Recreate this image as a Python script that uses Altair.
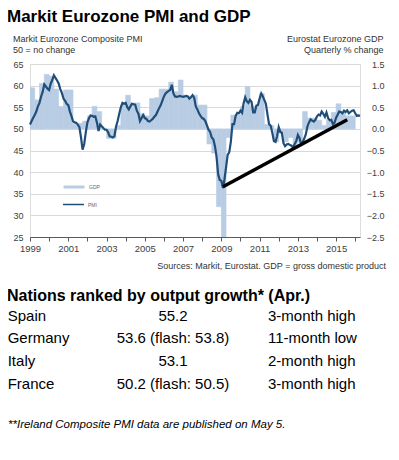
import altair as alt
import pandas as pd

TITLE = "Markit Eurozone PMI and GDP"
LEFT_SUB = ["Markit Eurozone Composite PMI", "50 = no change"]
RIGHT_SUB = ["Eurostat Eurozone GDP", "Quarterly % change"]
SOURCE = "Sources: Markit, Eurostat. GDP = gross domestic product"
TABLE_HEAD = "Nations ranked by output growth* (Apr.)"
countries = ["Spain", "Germany", "Italy", "France"]
readings = ["55.2", "53.6 (flash: 53.8)", "53.1", "50.2 (flash: 50.5)"]
notes = ["3-month high", "11-month low", "2-month high", "3-month high"]
FOOTNOTE = "**Ireland Composite PMI data are published on May 5."

# Monthly composite PMI, Jan 1999 - Apr 2016
pmi_values = [
    51.0, 51.8, 52.5, 53.2, 54.0, 55.2, 56.0, 57.5, 58.6, 60.3, 59.8, 59.3,
    59.0, 60.5, 61.3, 62.4, 61.8, 61.2, 60.5, 59.2, 58.3, 57.0, 56.5, 55.8,
    55.5, 54.0, 53.0, 51.8, 51.5, 51.4, 51.0, 50.4, 48.0, 45.2, 46.5, 49.2,
    51.5, 52.5, 53.1, 53.0, 52.8, 52.9, 51.5, 49.5, 51.0, 50.6, 50.2, 49.8,
    49.8, 49.2, 48.3, 48.2, 48.0, 48.3, 50.5, 51.8, 53.5, 55.0, 56.0, 55.8,
    56.0, 55.0, 54.5, 55.2, 55.8, 55.7, 55.6, 54.2, 53.5, 51.8, 52.5, 53.2,
    52.5, 52.3, 51.8, 51.7, 52.0, 52.3, 52.8, 53.2, 54.0, 54.8, 55.5, 56.5,
    57.5, 58.2, 58.5, 58.8, 59.0, 60.2, 58.2, 57.5, 57.4, 57.5, 57.6, 57.5,
    57.4, 57.5, 57.6, 57.5, 57.0, 57.3, 57.8, 57.2, 55.2, 54.5, 53.6, 53.0,
    52.5, 52.3, 51.8, 50.8, 49.8, 49.3, 48.0, 47.6, 46.0, 43.6, 39.5, 38.2,
    38.0, 36.3, 38.3, 41.1, 44.0, 44.6, 47.0, 51.1, 51.1, 53.0, 53.7, 53.6,
    54.2, 53.7, 55.9, 57.3, 56.4, 56.0, 56.7, 56.2, 53.8, 53.8, 55.4, 55.5,
    57.0, 58.2, 57.6, 56.7, 55.8, 53.3, 51.1, 50.7, 49.1, 47.2, 47.0, 48.3,
    50.4, 49.3, 49.1, 46.7, 46.0, 46.4, 46.5, 46.3, 46.1, 45.7, 46.5, 47.2,
    48.6, 47.9, 46.5, 46.9, 47.7, 48.7, 50.5, 51.5, 52.2, 51.9, 51.7, 52.1,
    52.9, 53.3, 53.1, 54.0, 53.5, 52.8, 53.8, 52.5, 52.0, 52.1, 51.1, 51.4,
    52.6, 53.3, 54.0, 53.9, 53.6, 54.2, 53.9, 54.3, 53.6, 53.9, 54.2, 54.3,
    53.6, 53.0, 53.1, 53.0,
]

# Quarterly GDP % change, 1999Q1 - 2015Q4
gdp_values = [
    0.95, 0.67, 1.05, 1.26,
    1.22, 0.92, 0.52, 0.90,
    0.90, 0.10, 0.13, 0.18,
    0.30, 0.52, 0.40, 0.00,
    -0.22, -0.22, 0.08, 0.55,
    0.78, 0.60, 0.60, 0.35,
    0.30, 0.70, 0.72, 0.92,
    0.92, 1.08, 0.86, 1.13,
    0.78, 0.76, 0.78, 0.55,
    0.55, -0.35, -0.56, -1.80,
    -3.00, -0.20, 0.32, 0.32,
    0.52, 0.98, 0.52, 0.52,
    0.82, 0.10, 0.08, -0.30,
    -0.10, -0.30, -0.20, -0.45,
    -0.30, 0.40, 0.25, 0.25,
    0.20, 0.08, 0.22, 0.38,
    0.58, 0.38, 0.30, 0.30,
]

trend_dates = ["2009-02-01", "2015-08-01"]
trend_values = [36.6, 52.1]

year_ticks = list(range(1999, 2017))
pmi_ticks = [25, 30, 35, 40, 45, 50, 55, 60, 65]
gdp_ticks = [-2.5, -2.0, -1.5, -1.0, -0.5, 0.0, 0.5, 1.0, 1.5]

BAR = "#b8cce4"
LINE = "#1f4e79"
FONT = "Liberation Sans"

pmi_df = pd.DataFrame({
    "date": pd.date_range("1999-01-01", periods=len(pmi_values), freq="MS"),
    "pmi": pmi_values,
    "series": "PMI",
})
q_start = pd.date_range("1999-01-01", periods=len(gdp_values), freq="QS")
gdp_df = pd.DataFrame({
    "start": q_start,
    "end": q_start + pd.DateOffset(months=3),
    "gdp": gdp_values,
    "series": "GDP",
})
trend_df = pd.DataFrame({"date": pd.to_datetime(trend_dates), "pmi": trend_values})
table_df = pd.DataFrame({"country": countries, "reading": readings, "note": notes})

x_scale = alt.Scale(domain=[alt.DateTime(year=1999, month=1, date=1),
                            alt.DateTime(year=2016, month=4, date=1)])
x_axis = alt.Axis(
    values=[alt.DateTime(year=y, month=1, date=1) for y in year_ticks],
    labelExpr="year(datum.value) % 2 == 1 ? timeFormat(datum.value, '%Y') : ''",
    grid=False, domainColor="#595959", tickColor="#595959", tickSize=4,
    labelFontSize=9.5, labelColor="#404040", labelPadding=2,
    labelFlush=False, labelOverlap=False, title=None,
)
pmi_scale = alt.Scale(domain=[25, 65], nice=False)
gdp_scale = alt.Scale(domain=[-2.5, 1.5], nice=False)

bars = alt.Chart(gdp_df).mark_bar(clip=True, stroke=BAR, strokeWidth=0.6).encode(
    x=alt.X("start:T", scale=x_scale, axis=x_axis),
    x2="end:T",
    y=alt.Y("gdp:Q", scale=gdp_scale, axis=alt.Axis(
        orient="right", values=gdp_ticks, format=".1f", grid=False,
        domain=False, ticks=False, tickSize=0, labelAlign="right",
        labelPadding=24, labelFontSize=9, labelColor="#404040", title=None)),
    y2=alt.datum(0),
    color=alt.Color("series:N", scale=alt.Scale(domain=["GDP"], range=[BAR]),
                    legend=alt.Legend(orient="none", legendX=32, legendY=111,
                                      symbolType="stroke", symbolSize=441,
                                      symbolStrokeWidth=3, symbolStrokeColor=BAR,
                                      labelFontSize=5, labelColor="#666666",
                                      labelOffset=3, title=None, padding=0)),
)

pmi_line = alt.Chart(pmi_df).mark_line(strokeWidth=2.2).encode(
    x=alt.X("date:T", scale=x_scale, axis=x_axis),
    y=alt.Y("pmi:Q", scale=pmi_scale, axis=alt.Axis(
        orient="left", values=pmi_ticks, grid=True, gridColor="#d9d9d9",
        domain=False, ticks=False, tickSize=0, labelPadding=7,
        labelFontSize=9, labelColor="#404040", title=None)),
    stroke=alt.Stroke("series:N", scale=alt.Scale(domain=["PMI"], range=[LINE]),
                      legend=alt.Legend(orient="none", legendX=32, legendY=129,
                                        symbolType="stroke", symbolSize=441,
                                        symbolStrokeWidth=1.5,
                                        labelFontSize=5, labelColor="#666666",
                                        labelOffset=3, title=None, padding=0)),
)

trend = alt.Chart(trend_df).mark_line(color="black", strokeWidth=3.5).encode(
    x=alt.X("date:T", scale=x_scale, axis=x_axis),
    y=alt.Y("pmi:Q", scale=pmi_scale, axis=None),
)


def label(text, x, y, size, align="left", weight="normal", style="normal", color="black"):
    return alt.Chart(pd.DataFrame({"t": [text]})).mark_text(
        align=align, baseline="alphabetic", fontSize=size, fontWeight=weight,
        fontStyle=style, color=color, font=FONT,
    ).encode(x=alt.value(x), y=alt.value(y), text="t:N")


texts = [
    label(TITLE, -23, -42, 17, weight="bold"),
    label(LEFT_SUB[0], -17, -22.5, 9, color="#333333"),
    label(LEFT_SUB[1], -17, -11.5, 9, color="#333333"),
    label(RIGHT_SUB[0], 353.5, -22.5, 9, align="right", color="#333333"),
    label(RIGHT_SUB[1], 353.5, -11.5, 9, align="right", color="#333333"),
    label(SOURCE, 356, 205, 9, align="right", color="#333333"),
    label(TABLE_HEAD, -23, 237, 16, weight="bold"),
    label(FOOTNOTE, -22, 363.5, 11.5, style="italic"),
]

row_scale = alt.Scale(type="point", domain=countries, range=[256.7, 325], padding=0)


def column(field, x, align):
    return alt.Chart(table_df).mark_text(
        align=align, baseline="alphabetic", fontSize=15, font=FONT, color="black",
    ).encode(
        x=alt.value(x),
        y=alt.Y("country:N", scale=row_scale, axis=None),
        text=f"{field}:N",
    )


table = [column("country", -22.3, "left"), column("reading", 143, "center"),
         column("note", 238, "left")]

chart = alt.layer(bars, pmi_line, trend, *texts, *table).resolve_scale(
    y="independent"
).properties(
    width=330, height=173,
    autosize=alt.AutoSizeParams(type="none"),
    padding={"left": 22, "top": 56, "right": 31, "bottom": 200},
).configure_view(stroke=None).configure(font=FONT)

chart.save("out.html", embed_options={"renderer": "svg", "actions": False})
